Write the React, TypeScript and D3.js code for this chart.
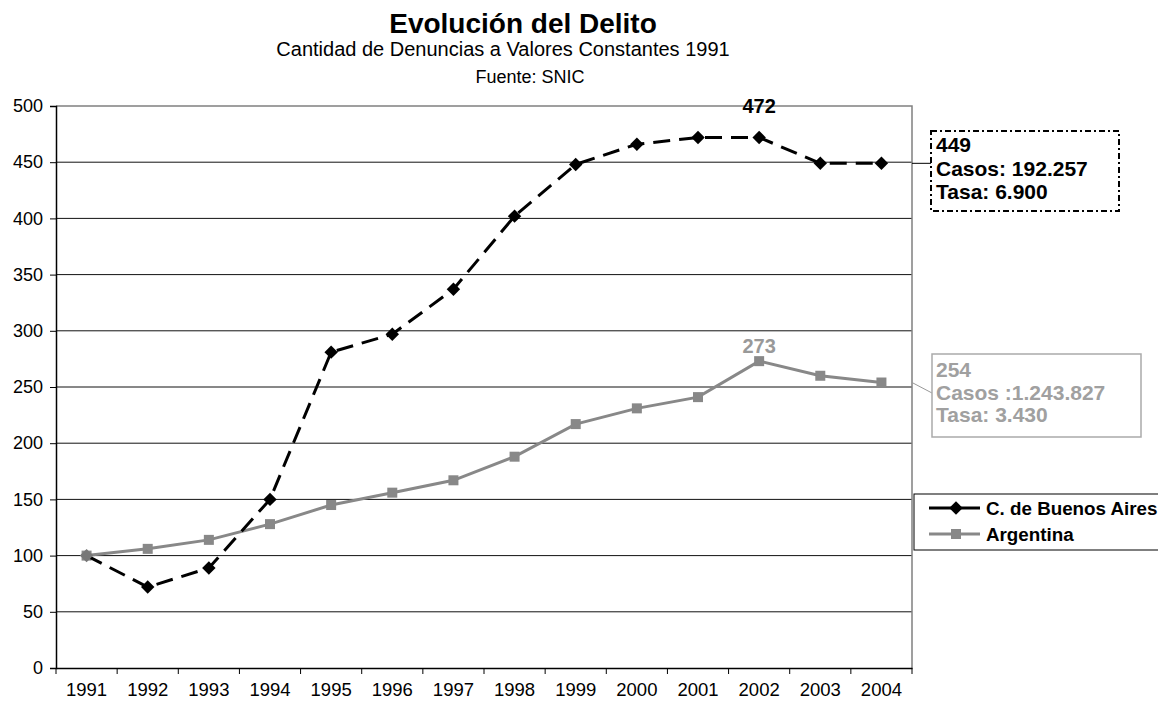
import React, { useEffect, useRef } from "react";
import * as d3 from "d3";

// data
const years = ["1991", "1992", "1993", "1994", "1995", "1996", "1997", "1998", "1999", "2000", "2001", "2002", "2003", "2004"];
const buenosAires = [100, 72, 89, 150, 281, 297, 337, 402, 448, 466, 472, 472, 449, 449];
const argentina = [100, 106, 114, 128, 145, 156, 167, 188, 217, 231, 241, 273, 260, 254];
const yTicks = [0, 50, 100, 150, 200, 250, 300, 350, 400, 450, 500];
const baNote = ["449", "Casos: 192.257", "Tasa: 6.900"];
const argNote = ["254", "Casos :1.243.827", "Tasa: 3.430"];

const FONT = "'Liberation Sans', Arial, Helvetica, sans-serif";

const App = () => {
  const ref = useRef<SVGSVGElement | null>(null);

  useEffect(() => {
    const width = 1158;
    const height = 704;
    const m = { left: 56, right: 912, top: 106, bottom: 668 };

    const svg = d3.select(ref.current);
    svg.selectAll("*").remove();
    svg.attr("viewBox", [0, 0, width, height]).style("font-family", FONT);

    const x = d3.scaleBand().domain(years).range([m.left, m.right]).padding(0);
    const y = d3.scaleLinear().domain([0, 500]).range([m.bottom, m.top]);
    const cx = (d: string) => (x(d) as number) + x.bandwidth() / 2;

    // titles
    svg.append("text").attr("x", 523).attr("y", 33).attr("text-anchor", "middle")
      .attr("font-size", 28).attr("font-weight", "bold").text("Evolución del Delito");
    svg.append("text").attr("x", 503).attr("y", 56).attr("text-anchor", "middle")
      .attr("font-size", 20).text("Cantidad de Denuncias a Valores Constantes 1991");
    svg.append("text").attr("x", 530).attr("y", 83).attr("text-anchor", "middle")
      .attr("font-size", 18).text("Fuente: SNIC");

    // gridlines
    svg.append("g")
      .selectAll("line")
      .data(yTicks.filter((t) => t > 0 && t < 500))
      .join("line")
      .attr("x1", m.left).attr("x2", m.right)
      .attr("y1", (d) => y(d)).attr("y2", (d) => y(d))
      .attr("stroke", "#111").attr("stroke-width", 1);

    // plot border (top / right)
    svg.append("path")
      .attr("d", `M${m.left},${y(500)}H${m.right}V${m.bottom}`)
      .attr("fill", "none").attr("stroke", "#808080").attr("stroke-width", 1.5);

    // y axis
    svg.append("g")
      .attr("transform", `translate(${m.left},0)`)
      .call(d3.axisLeft(y).tickValues(yTicks).tickSize(6).tickPadding(7))
      .call((g) => g.selectAll("text").attr("font-size", 18).attr("font-family", FONT).attr("fill", "#000"))
      .call((g) => g.select(".domain").attr("stroke", "#000").attr("stroke-width", 1.5))
      .call((g) => g.selectAll(".tick line").attr("stroke", "#000"));

    // x axis: labels at centres, ticks on band boundaries
    svg.append("g")
      .attr("transform", `translate(0,${m.bottom})`)
      .call(d3.axisBottom(x).tickSize(0).tickPadding(15))
      .call((g) => g.selectAll("text").attr("font-size", 18.5).attr("font-family", FONT).attr("fill", "#000"))
      .call((g) => g.select(".domain").attr("stroke", "#000").attr("stroke-width", 1.5));

    const bounds = years.map((d) => x(d) as number).concat([m.right]);
    svg.append("g")
      .selectAll("line")
      .data(bounds)
      .join("line")
      .attr("x1", (d) => d).attr("x2", (d) => d)
      .attr("y1", m.bottom).attr("y2", m.bottom + 6)
      .attr("stroke", "#000");

    const line = d3.line<number>().x((_, i) => cx(years[i])).y((d) => y(d));

    // Argentina
    svg.append("path").attr("d", line(argentina))
      .attr("fill", "none").attr("stroke", "#888").attr("stroke-width", 3);
    svg.append("g")
      .selectAll("rect")
      .data(argentina)
      .join("rect")
      .attr("x", (_, i) => cx(years[i]) - 5).attr("y", (d) => y(d) - 5)
      .attr("width", 10).attr("height", 10).attr("fill", "#888");

    // C. de Buenos Aires
    svg.append("path").attr("d", line(buenosAires))
      .attr("fill", "none").attr("stroke", "#000").attr("stroke-width", 3)
      .attr("stroke-dasharray", "17,9");
    const diamond = d3.symbol().type(d3.symbolDiamond2).size(115);
    svg.append("g")
      .selectAll("path")
      .data(buenosAires)
      .join("path")
      .attr("transform", (d, i) => `translate(${cx(years[i])},${y(d)})`)
      .attr("d", diamond() as string)
      .attr("fill", (_, i) => (i === 0 ? "#777" : "#000"));

    // peak labels
    const peak = 11;
    svg.append("text").attr("x", cx(years[peak])).attr("y", y(buenosAires[peak]) - 24)
      .attr("text-anchor", "middle").attr("font-size", 20).attr("font-weight", "bold")
      .text(String(buenosAires[peak]));
    svg.append("text").attr("x", cx(years[peak])).attr("y", y(argentina[peak]) - 8)
      .attr("text-anchor", "middle").attr("font-size", 20).attr("font-weight", "bold")
      .attr("fill", "#999").text(String(argentina[peak]));

    // annotation boxes
    const last = years.length - 1;
    svg.append("line").attr("x1", m.right).attr("x2", 931)
      .attr("y1", y(buenosAires[last])).attr("y2", y(buenosAires[last]))
      .attr("stroke", "#000").attr("stroke-width", 1);
    svg.append("rect").attr("x", 931).attr("y", 131).attr("width", 188).attr("height", 80)
      .attr("fill", "#fff").attr("stroke", "#000").attr("stroke-width", 2)
      .attr("stroke-dasharray", "6,3,2,3");
    svg.append("g")
      .selectAll("text")
      .data(baNote)
      .join("text")
      .attr("x", 936).attr("y", (_, i) => 152 + i * 23.5)
      .attr("font-size", 21).attr("font-weight", "bold").text((d) => d);

    svg.append("line").attr("x1", m.right).attr("x2", 932)
      .attr("y1", y(argentina[last])).attr("y2", 393)
      .attr("stroke", "#999").attr("stroke-width", 1);
    svg.append("rect").attr("x", 932).attr("y", 354).attr("width", 209).attr("height", 83)
      .attr("fill", "#fff").attr("stroke", "#aaa").attr("stroke-width", 1.5);
    svg.append("g")
      .selectAll("text")
      .data(argNote)
      .join("text")
      .attr("x", 936).attr("y", (_, i) => 377 + i * 22.5)
      .attr("font-size", 21).attr("font-weight", "bold").attr("fill", "#a0a0a0").text((d) => d);

    // legend
    const lg = svg.append("g");
    lg.append("rect").attr("x", 914).attr("y", 494).attr("width", 260).attr("height", 56)
      .attr("fill", "#fff").attr("stroke", "#000").attr("stroke-width", 1);
    const items = [
      { name: "C. de Buenos Aires", color: "#000", marker: "diamond" },
      { name: "Argentina", color: "#888", marker: "square" },
    ];
    items.forEach((it, i) => {
      const yy = 508 + i * 26;
      lg.append("line").attr("x1", 929).attr("x2", 980).attr("y1", yy).attr("y2", yy)
        .attr("stroke", it.color).attr("stroke-width", 3);
      if (it.marker === "diamond") {
        lg.append("path").attr("transform", `translate(956,${yy})`).attr("d", diamond() as string).attr("fill", it.color);
      } else {
        lg.append("rect").attr("x", 951).attr("y", yy - 5).attr("width", 10).attr("height", 10).attr("fill", it.color);
      }
      lg.append("text").attr("x", 986).attr("y", yy + 6.5)
        .attr("font-size", 18.8).attr("font-weight", "bold").text(it.name);
    });
  }, []);

  return <svg ref={ref} width={1158} height={704} style={{ position: "absolute", left: 0, top: 0 }}></svg>;
};

export default App;
